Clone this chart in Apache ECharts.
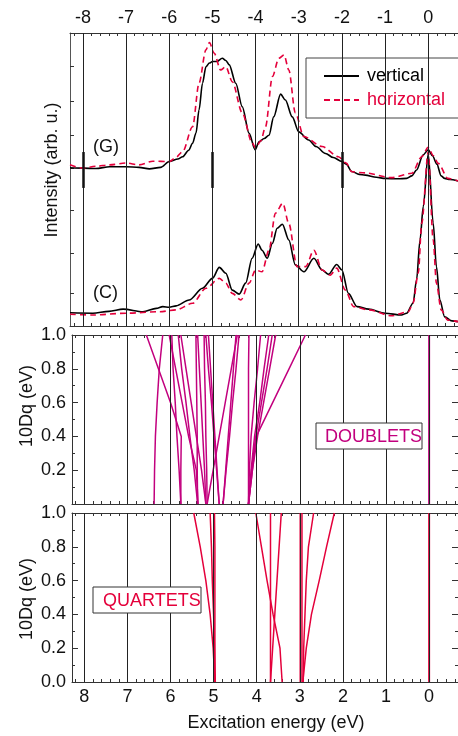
<!DOCTYPE html>
<html>
<head>
<meta charset="utf-8">
<script src="https://cdn.jsdelivr.net/npm/echarts@6/dist/echarts.min.js"></script>
<style>
  html, body { margin: 0; padding: 0; background: #fff; }
  #main { width: 458px; height: 736px; }
</style>
</head>
<body>
<div id="main"></div>
<script>
// spectra (G) and (C): [excitation energy eV, intensity arb. u.]
var gVertical = [[8.30,4.32],[8.0,4.31],[7.7,4.30],[7.38,4.35],[7.0,4.35],[6.7,4.33],[6.46,4.29],[6.2,4.33],[6.0,4.49],[5.8,4.56],[5.69,4.62],[5.55,4.80],[5.46,4.99],[5.38,5.27],[5.31,5.90],[5.23,6.63],[5.15,7.08],[5.07,7.18],[5.0,7.22],[4.9,7.22],[4.77,7.31],[4.69,7.25],[4.61,7.13],[4.46,6.63],[4.31,5.99],[4.15,5.26],[4.01,4.81],[3.92,5.03],[3.80,5.12],[3.69,5.21],[3.58,5.71],[3.42,6.33],[3.31,6.17],[3.15,5.71],[3.0,5.30],[2.77,5.08],[2.6,4.9],[2.38,4.71],[2.2,4.6],[2.0,4.49],[1.9,4.42],[1.77,4.22],[1.6,4.14],[1.46,4.12],[1.2,4.06],[1.0,4.03],[0.7,4.02],[0.5,4.03],[0.38,4.10],[0.27,4.26],[0.12,4.67],[0.0,4.81],[-0.1,4.65],[-0.2,4.42],[-0.3,4.1],[-0.38,4.03],[-0.5,4.0],[-0.69,3.96]];
var gHorizontal = [[8.30,4.40],[8.01,4.31],[7.7,4.36],[7.38,4.40],[7.0,4.45],[6.7,4.40],[6.38,4.50],[6.0,4.49],[5.85,4.6],[5.69,4.76],[5.46,5.44],[5.31,6.63],[5.15,7.54],[5.07,7.74],[4.96,7.45],[4.81,6.99],[4.69,7.08],[4.54,6.67],[4.31,5.82],[4.08,5.0],[4.0,4.86],[3.88,5.05],[3.77,5.44],[3.61,6.81],[3.46,7.31],[3.34,7.40],[3.23,6.99],[3.08,5.82],[2.88,5.17],[2.46,4.90],[2.08,4.62],[1.9,4.45],[1.77,4.21],[1.46,4.18],[0.85,4.05],[0.38,4.17],[0.15,4.62],[0.0,4.88],[-0.12,4.65],[-0.23,4.44],[-0.46,4.03],[-0.69,3.96]];
var cVertical = [[8.30,0.36],[7.77,0.35],[7.4,0.40],[7.07,0.46],[6.61,0.39],[6.3,0.48],[6.15,0.53],[6.0,0.51],[5.84,0.55],[5.54,0.71],[5.23,1.03],[5.0,1.30],[4.84,1.60],[4.69,1.44],[4.54,0.98],[4.38,0.87],[4.23,1.17],[4.08,1.85],[3.94,2.24],[3.85,2.07],[3.73,1.85],[3.61,2.26],[3.50,2.67],[3.38,2.78],[3.23,2.35],[3.08,1.67],[2.88,1.48],[2.65,1.85],[2.46,1.53],[2.31,1.41],[2.12,1.68],[2.0,1.53],[1.85,0.89],[1.65,0.53],[1.38,0.46],[1.0,0.35],[0.62,0.30],[0.5,0.35],[0.35,0.63],[0.27,1.26],[0.19,2.35],[0.115,3.26],[0.0,4.70],[-0.115,2.81],[-0.19,1.62],[-0.27,0.71],[-0.38,0.25],[-0.55,0.14],[-0.69,0.12]];
var cHorizontal = [[8.30,0.32],[7.77,0.30],[7.0,0.35],[6.23,0.39],[5.84,0.44],[5.46,0.62],[5.15,1.03],[4.84,1.30],[4.69,1.17],[4.54,0.89],[4.34,0.71],[4.15,1.17],[4.0,1.53],[3.85,1.48],[3.69,2.07],[3.54,3.08],[3.37,3.35],[3.23,2.80],[3.04,1.62],[2.84,1.62],[2.65,2.07],[2.46,1.53],[2.27,1.39],[2.12,1.58],[1.92,0.98],[1.73,0.53],[1.38,0.44],[0.85,0.28],[0.46,0.39],[0.35,0.63],[0.23,1.45],[0.15,2.81],[0.0,4.75],[-0.115,2.35],[-0.19,1.17],[-0.3,0.44],[-0.45,0.16],[-0.69,0.12]];

// energy levels vs 10Dq: energies (eV) at each 10Dq step
var dqSteps = [0, 0.2, 0.4, 0.6, 0.8, 1.0];
var doublets = [
  [6.38, 6.37, 6.35, 6.31, 6.26, 6.18],
  [5.76, 5.76, 5.75, 6.00, 6.28, 6.56],
  [5.76, 5.80, 5.85, 5.89, 5.94, 5.97],
  [5.36, 5.40, 5.58, 5.73, 5.88, 6.03],
  [5.37, 5.45, 5.55, 5.64, 5.74, 5.82],
  [5.37, 5.38, 5.38, 5.39, 5.40, 5.41],
  [5.18, 5.28, 5.40, 5.52, 5.64, 5.76],
  [5.18, 5.21, 5.25, 5.29, 5.33, 5.37],
  [5.15, 5.16, 5.18, 5.19, 5.21, 5.22],
  [5.15, 5.01, 4.87, 4.73, 4.59, 4.45],
  [4.87, 4.92, 4.97, 5.02, 5.07, 5.12],
  [4.87, 4.93, 4.99, 5.05, 5.12, 5.18],
  [4.78, 4.72, 4.66, 4.60, 4.54, 4.48],
  [4.78, 4.71, 4.63, 4.56, 4.48, 4.41],
  [4.19, 4.19, 4.19, 4.19, 4.19, 4.18],
  [4.19, 4.17, 4.13, 4.06, 3.98, 3.91],
  [4.19, 4.13, 4.05, 3.93, 3.83, 3.72],
  [4.19, 4.12, 4.02, 3.89, 3.76, 3.64],
  [4.19, 4.10, 3.98, 3.84, 3.70, 3.56],
  [4.19, 4.10, 4.01, 3.63, 3.25, 2.87],
  [0, 0, 0, 0, 0, 0]
];
var quartets = [
  [4.97, 5.01, 5.08, 5.18, 5.31, 5.46],
  [4.96, 4.98, 5.00, 5.03, 5.05, 5.08],
  [4.97, 4.97, 4.97, 4.97, 4.97, 4.98],
  [3.41, 3.46, 3.62, 3.76, 3.89, 4.02],
  [3.68, 3.68, 3.68, 3.68, 3.68, 3.68],
  [3.68, 3.63, 3.58, 3.53, 3.48, 3.43],
  [2.99, 2.99, 2.99, 2.99, 2.99, 2.99],
  [2.95, 2.95, 2.95, 2.95, 2.95, 2.95],
  [2.92, 2.91, 2.88, 2.85, 2.80, 2.68],
  [2.93, 2.85, 2.73, 2.55, 2.38, 2.20],
  [0, 0, 0, 0, 0, 0]
];

var energyTicks = [0, 1, 2, 3, 4, 5, 6, 7, 8];
var intensityTicks = [0.9, 2.0, 3.15, 4.3, 5.2, 6.15, 7.1];
var thickMarks = [8, 5, 2];

var FONT = '"Liberation Sans", Arial, sans-serif';
var RED = '#e4003b', MAG = '#c2007e', AX = '#333';
var topRange = [-0.69, 8.3], lowRange = [-0.67, 8.285];

var minorTicks = [];
for (var t = -6; t <= 82; t += 2) minorTicks.push(t / 10);

var myChart = echarts.init(document.getElementById('main'));

function xAx(g, pos, range, showLabels, fmt) {
    return {
        type: 'value', gridIndex: g, position: pos, min: range[0], max: range[1], inverse: true,
        axisLine: {show: true, onZero: false, lineStyle: {color: AX, width: 1}},
        axisTick: {show: true, inside: true, length: 3, customValues: minorTicks, lineStyle: {color: AX}},
        axisLabel: {show: showLabels, customValues: energyTicks, margin: 6, fontSize: 18, color: '#111', fontFamily: FONT, formatter: fmt},
        splitLine: {show: false}
    };
}
function yDq(g, pos, labels, hideZero) {
    return {
        type: 'value', gridIndex: g, position: pos, min: 0, max: 1, interval: 0.2,
        axisLine: {show: true, onZero: false, lineStyle: {color: AX}},
        axisTick: {show: true, inside: true, length: 6, lineStyle: {color: AX}},
        minorTick: {show: true, splitNumber: 2, length: 3, lineStyle: {color: AX}},
        axisLabel: {show: labels, margin: 6, fontSize: 18, color: '#111', fontFamily: FONT,
            formatter: function (v) { return (hideZero && v === 0) ? '' : v.toFixed(1); }},
        splitLine: {show: false}
    };
}
function yInt(g, pos) {
    return {
        type: 'value', gridIndex: g, position: pos, min: 0, max: 8,
        axisLine: {show: true, onZero: false, lineStyle: {color: '#555'}},
        axisTick: {show: true, inside: true, length: 4, customValues: intensityTicks, lineStyle: {color: AX}},
        axisLabel: {show: false},
        splitLine: {show: false}
    };
}
// vertical lines at integer energies
function gridLines(xi) {
    return {
        type: 'line', xAxisIndex: xi, yAxisIndex: xi, data: [], silent: true, z: 1,
        markLine: {
            symbol: ['none', 'none'], silent: true, animation: false, label: {show: false},
            lineStyle: {color: '#222', width: 1, type: 'solid'},
            data: energyTicks.map(function (e) { return {xAxis: e}; })
        }
    };
}
function levelSeries(levels, xi, color) {
    return levels.map(function (row) {
        return {
            type: 'line', xAxisIndex: xi, yAxisIndex: xi, showSymbol: false, symbol: 'none', silent: true,
            lineStyle: {color: color, width: row[0] === 0 ? 2 : 1.5}, z: 3,
            data: row.map(function (e, i) { return [e, dqSteps[i]]; })
        };
    });
}
function spectrum(name, data, color, dashed) {
    return {
        name: name, type: 'line', xAxisIndex: 0, yAxisIndex: 0, showSymbol: false, symbol: 'none',
        smooth: 0.3, smoothMonotone: 'x', z: dashed ? 4 : 3,
        itemStyle: {color: color},
        lineStyle: {color: color, width: 1.6, type: dashed ? [6, 4] : 'solid'},
        data: data
    };
}

var series = [gridLines(0), gridLines(2), gridLines(4)];
series.push({
    type: 'line', xAxisIndex: 0, yAxisIndex: 0, data: [], silent: true, z: 2,
    markLine: {
        symbol: ['none', 'none'], silent: true, animation: false, label: {show: false},
        lineStyle: {color: '#111', width: 2.5, type: 'solid'},
        data: thickMarks.map(function (e) { return [{coord: [e, 3.77]}, {coord: [e, 4.75]}]; })
    }
});
series.push(spectrum('vertical', gVertical, '#000', false));
series.push(spectrum('horizontal', gHorizontal, RED, true));
series.push(spectrum('vertical', cVertical, '#000', false));
series.push(spectrum('horizontal', cHorizontal, RED, true));
series = series.concat(levelSeries(doublets, 2, MAG), levelSeries(quartets, 4, RED));

var txt = function (s, x, y, color) {
    return {type: 'text', x: x, y: y, z: 100, style: {text: s, fill: color || '#111', font: '18px ' + FONT, textAlign: 'left', textVerticalAlign: 'middle'}};
};
var vtxt = function (s, x, y) {
    return {type: 'text', x: x, y: y, rotation: Math.PI / 2, z: 100,
        style: {text: s, fill: '#111', font: '18px ' + FONT, textAlign: 'center', textVerticalAlign: 'middle'}};
};

var option = {
    backgroundColor: '#fff',
    animation: false,
    grid: [
        {left: 70, top: 33, width: 390, height: 293},
        {left: 72, top: 335, width: 388, height: 169},
        {left: 72, top: 513, width: 388, height: 169}
    ],
    xAxis: [
        xAx(0, 'bottom', topRange, false),
        xAx(0, 'top', topRange, true, function (v) { return v === 0 ? '0' : '-' + v; }),
        xAx(1, 'bottom', lowRange, false),
        xAx(1, 'top', lowRange, false),
        xAx(2, 'bottom', lowRange, true, function (v) { return String(v); }),
        xAx(2, 'top', lowRange, false)
    ],
    yAxis: [
        yInt(0, 'left'), yInt(0, 'right'),
        yDq(1, 'left', true, true), yDq(1, 'right', false),
        yDq(2, 'left', true, false), yDq(2, 'right', false)
    ],
    legend: {
        left: 306, top: 58, orient: 'vertical', selectedMode: false,
        backgroundColor: '#fff', borderColor: '#444', borderWidth: 1,
        padding: [9, 14, 9, 17], itemWidth: 35, itemHeight: 14, itemGap: 6,
        itemStyle: {opacity: 0},
        textStyle: {fontSize: 18, fontFamily: FONT, padding: [0, 0, 0, 3]},
        data: [
            {name: 'vertical', textStyle: {color: '#000'}},
            {name: 'horizontal', textStyle: {color: RED}}
        ]
    },
    graphic: [
        txt('(G)', 93, 147),
        txt('(C)', 93, 293),
        vtxt('Intensity (arb. u.)', 52, 170),
        vtxt('10Dq (eV)', 27, 406),
        vtxt('10Dq (eV)', 27, 599),
        {type: 'text', x: 276, y: 723, z: 100, style: {text: 'Excitation energy (eV)', fill: '#111', font: '18px ' + FONT, textAlign: 'center', textVerticalAlign: 'middle'}},
        {type: 'rect', z: 99, shape: {x: 316, y: 423, width: 106, height: 26}, style: {fill: '#fff', stroke: '#333', lineWidth: 1}},
        txt('DOUBLETS', 325, 437, MAG),
        {type: 'rect', z: 99, shape: {x: 93, y: 587, width: 108, height: 26}, style: {fill: '#fff', stroke: '#333', lineWidth: 1}},
        txt('QUARTETS', 103, 601, RED)
    ],
    series: series
};

myChart.setOption(option);
</script>
</body>
</html>
